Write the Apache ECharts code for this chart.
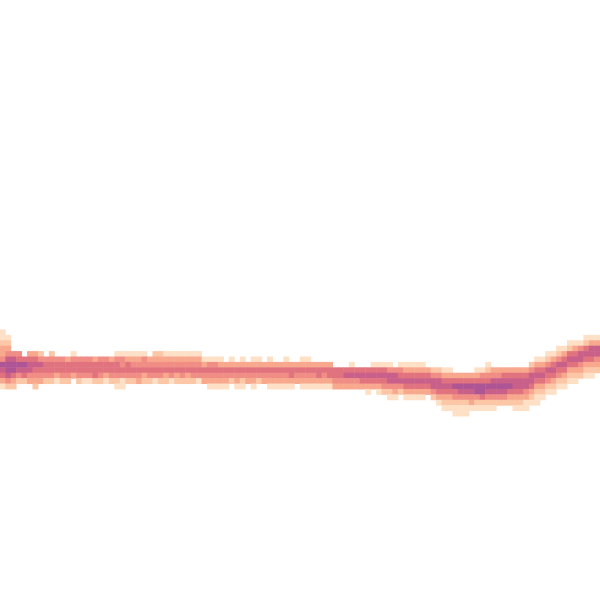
<!DOCTYPE html>
<html>
<head>
<meta charset="utf-8">
<script src="https://cdn.jsdelivr.net/npm/echarts@6/dist/echarts.min.js"></script>
<style>html,body{margin:0;padding:0;background:#fff;}#chart{width:600px;height:600px;}</style>
</head>
<body>
<div id="chart"></div>
<script>
// Grid of 110 columns x 111 rows; density levels 1..7 per cell.
const nCols = 110;
const nRows = 111;
// first (top) row index having a non-empty cell, per column
const columnStart = [
  61,62,65,65,66,65,65,65,66,65,
  66,66,66,65,66,66,66,66,66,66,
  66,65,65,65,65,65,65,66,65,65,
  65,65,65,65,65,65,65,66,66,66,
  66,67,66,67,66,67,66,66,67,66,
  67,67,66,67,67,66,66,67,67,67,
  67,68,68,68,67,68,68,68,67,67,
  67,67,68,67,67,67,67,67,68,68,
  68,68,68,69,69,69,69,68,68,67,
  68,68,68,68,68,68,68,67,66,66,
  65,65,64,64,63,63,63,62,62,62
];
// levels going downwards from columnStart, per column ('0' = empty)
const columnLevels = [
  "11233476531","1234677642","4677532","457642","57652","356643","3565432","246543","45542","245542",
  "45531","45542","35542","14553","45542","45541","45541","35552","45542","45531",
  "35542","1455421","1445411","135542","134542","134543","144532","34542","234541","234542",
  "134532","134541","134532","134542","134532","134542","134541","13543","145431","145431",
  "135431","35431","13542","35431","135421","3543","135431","13542","3543","135431",
  "35431","35431","135431","35531","3543","135431","135431","35431","35531","35431",
  "35531","5543","5543","5643","15643","5643","5653","56531","15653","156531",
  "156542","1466421","466431","145642","1356531","1356531","1356531","1356531","35653","246642",
  "2466531","13565321","13565321","35754211","35764211","35764211","3576431","13577421","14577521","124576421",
  "34676421","3467642","3567642","3567532","35665321","35665321","35664311","24665321","135653211","13565321",
  "12465421","13565321","12465421","13565321","12565321","13565321","1466432","12565321","13665321","1366432"
];
const levelColors = ['#fee0c6','#fcc7a6','#f8a88d','#f08d85','#e1737f','#c8608a','#ae5595'];

const xCats = [];
for (let i = 0; i < nCols; i++) xCats.push(i);
const yCats = [];
for (let j = 0; j < nRows; j++) yCats.push(j);
const cells = [];
for (let c = 0; c < nCols; c++) {
  const s = columnLevels[c];
  for (let k = 0; k < s.length; k++) {
    const v = +s[k];
    if (v > 0) cells.push([c, columnStart[c] + k, v]);
  }
}

const cellH = 600 / nCols;
const topPx = -3.15;
const chart = echarts.init(document.getElementById('chart'), null, {renderer: 'canvas'});
chart.setOption({
  backgroundColor: '#ffffff',
  animation: false,
  grid: {left: 0, right: 0, top: topPx, bottom: 600 - (topPx + nRows * cellH), containLabel: false},
  xAxis: {type: 'category', data: xCats, show: false, splitArea: {show: false}},
  yAxis: {type: 'category', data: yCats, show: false, inverse: true, splitArea: {show: false}},
  visualMap: {
    show: false, type: 'piecewise', dimension: 2,
    pieces: levelColors.map((col, i) => ({value: i + 1, color: col}))
  },
  series: [{
    type: 'heatmap',
    data: cells,
    itemStyle: {borderWidth: 0},
    emphasis: {disabled: true}
  }]
});
</script>
</body>
</html>
